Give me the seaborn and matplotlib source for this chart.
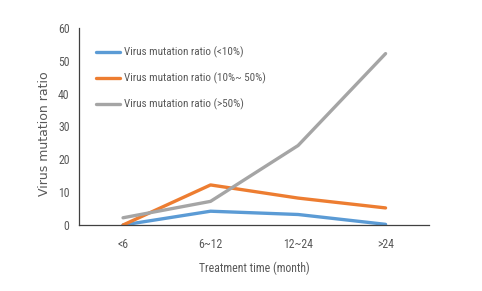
import pandas as pd
import matplotlib
matplotlib.use('Agg')
import matplotlib.pyplot as plt
import seaborn as sns

# Data
periods = ['<6', '6~12', '12~24', '>24']
low_ratio = [0.0, 4.2, 3.2, 0.2]
mid_ratio = [0.0, 12.2, 8.2, 5.2]
high_ratio = [2.2, 7.2, 24.2, 52.2]
series_names = ['Virus mutation ratio (<10%)',
                'Virus mutation ratio (10%~ 50%)',
                'Virus mutation ratio (>50%)']
colors = ['#5B9BD5', '#ED7D31', '#A5A5A5']

sns.set_theme(style='white')
plt.rcParams['font.family'] = ['Roboto Condensed', 'DejaVu Sans']
text_color = '#595959'

rows = []
for name, vals in zip(series_names, [low_ratio, mid_ratio, high_ratio]):
    for p, v in zip(periods, vals):
        rows.append({'period': p, 'value': v, 'series': name})
df = pd.DataFrame(rows)

fig = plt.figure(figsize=(4.82, 2.91), dpi=100)
ax = fig.add_axes([0.1645, 0.2268, 0.7262, 0.677])
sns.lineplot(data=df, x='period', y='value', hue='series', palette=colors,
             linewidth=2.4, ax=ax, sort=False)

ax.set_xlim(-0.5, 3.5)
ax.set_ylim(0, 60)
ax.set_yticks(range(0, 61, 10))
ax.set_xticks([0, 1, 2, 3])
ax.set_xticklabels(periods)
ax.set_xticks([3.5], minor=True)
ax.tick_params(axis='both', which='both', direction='in', length=3, width=0.8,
               colors='#404040', labelcolor=text_color, labelsize=8.5)
ax.tick_params(axis='x', pad=9)
ax.tick_params(axis='y', pad=7)
for s in ['top', 'right']:
    ax.spines[s].set_visible(False)
for s in ['left', 'bottom']:
    ax.spines[s].set_color('#404040')
    ax.spines[s].set_linewidth(0.9)

ax.set_xlabel('Treatment time (month)', fontsize=8.5, color=text_color, labelpad=8)
ax.set_ylabel('Virus mutation ratio', fontsize=9, color=text_color,
              family='DejaVu Sans')
ax.yaxis.set_label_coords(-0.082, 0.462)

leg = ax.legend(loc='upper left', bbox_to_anchor=(0.02, 0.955), frameon=False,
                fontsize=8, handlelength=2.1, handletextpad=0.35, labelspacing=1.3)
for t in leg.get_texts():
    t.set_color(text_color)
for h in leg.get_lines():
    h.set_linewidth(2.4)

fig.savefig('out.png', dpi=100)
